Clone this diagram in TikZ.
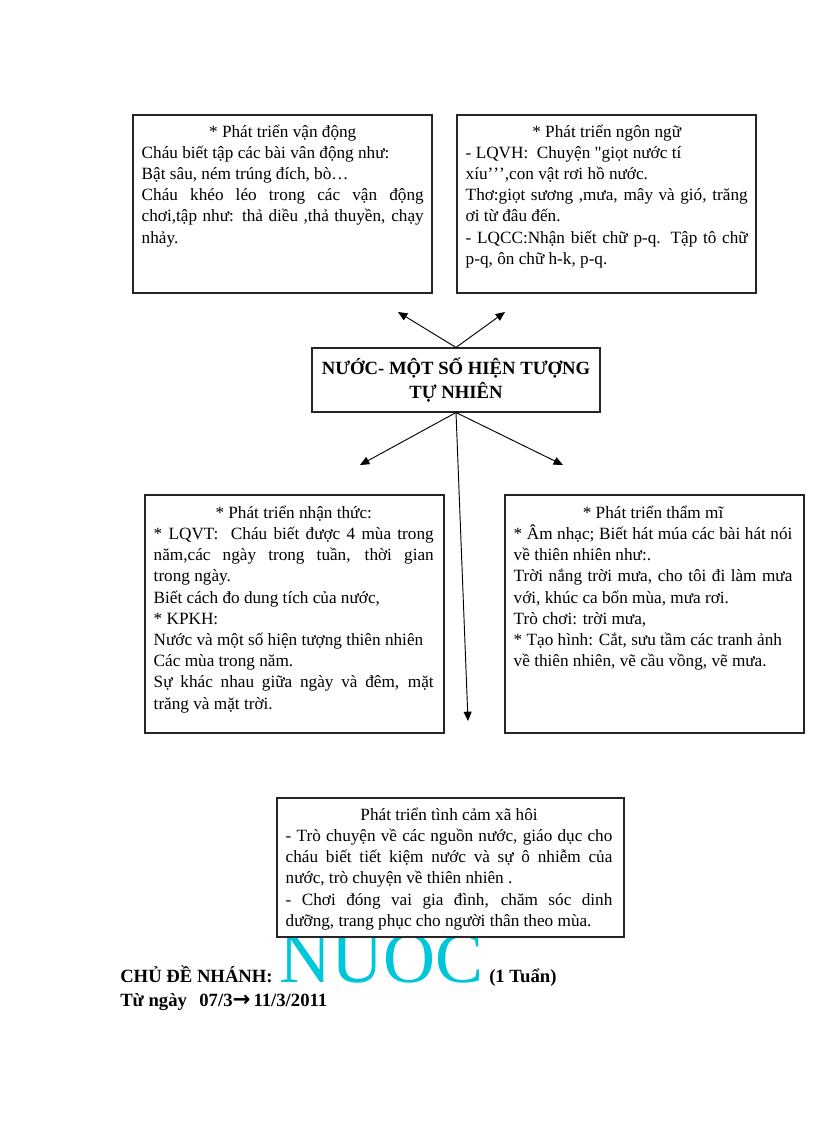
\documentclass[tikz,border=0pt]{standalone}
\usepackage{fontspec}
\setmainfont{Liberation Serif}
\newfontfamily\arrfont{DejaVu Sans}
\usetikzlibrary{arrows.meta}
\definecolor{wordart}{RGB}{0,198,218}
\tikzset{
  box/.style={draw=black!85, line width=0.8pt, fill=white, rectangle, inner sep=0pt},
  boxtext/.style={anchor=north west, inner sep=0pt,
    font=\fontsize{12.9}{15.9}\selectfont},
  title/.style={inner sep=0pt, align=center, font=\fontsize{14}{17.5}\selectfont\bfseries},
  arr/.style={line width=0.7pt, -{Triangle[length=7pt,width=6pt]}},
  bottomtext/.style={inner sep=0pt, anchor=base west, font=\fontsize{14}{17}\selectfont\bfseries}
}
\newcommand{\boxhead}[1]{{\centering #1\par}}
\newcommand{\jbox}[2]{\vbox{\hsize=#1\parindent=0pt\hbadness=10000\tolerance=9999\leftskip=0pt\rightskip=0pt #2\par}}
\begin{document}
\begin{tikzpicture}[x=0.75pt,y=-0.75pt]
\useasboundingbox[fill=white] (0,0) rectangle (816,1123);

% boxes
\node[box, minimum width=224.25pt, minimum height=133.5pt] (b1) at (282.5,204) {};
\node[box, minimum width=224.25pt, minimum height=133.5pt] (b2) at (606.5,204) {};
\node[box, minimum width=216pt, minimum height=48pt] (c) at (456,380) {};
\node[box, minimum width=224.25pt, minimum height=178.5pt] (b3) at (294.5,614) {};
\node[box, minimum width=224.25pt, minimum height=178.5pt] (b4) at (654.5,614) {};

% big word art (partly under box 5)
\node[inner sep=0pt, anchor=base west, text=wordart, font=\fontsize{54}{54}\selectfont] (nuoc) at (279,982) {NUOC};
\node[box, minimum width=260.25pt, minimum height=104.25pt] (b5) at (450.5,867.5) {};

% texts
\node[boxtext] (t1) at ([shift={(9,10)}]b1.north west) {\jbox{211.5pt}{%
\boxhead{* Phát triển vận động}
Cháu biết tập các bài vân động như:\par
Bật sâu, ném trúng đích, bò…\par
Cháu khéo léo trong các vận động\linebreak
chơi,tập như: thả diều ,thả thuyền, chạy\linebreak
nhảy.}};

\node[boxtext] (t2) at ([shift={(9,10)}]b2.north west) {\jbox{211.5pt}{%
\boxhead{* Phát triển ngôn ngữ}
- LQVH:\ \ Chuyện \textquotedbl giọt nước tí\par
xíu’\kern0pt’\kern0pt’,con vật rơi hồ nước.\par
Thơ:giọt sương ,mưa, mây và gió, trăng\linebreak
ơi từ đâu đến.\par
- LQCC:Nhận biết chữ p-q. Tập tô chữ\linebreak
p-q, ôn chữ h-k, p-q.}};

\node[title] (tc) at (c) {NƯỚC- MỘT SỐ HIỆN TƯỢNG\\TỰ NHIÊN};

\node[boxtext] (t3) at ([shift={(9,11)}]b3.north west) {\jbox{210pt}{%
\boxhead{* Phát triển nhận thức:}
* LQVT:\ \ Cháu biết được 4 mùa trong\linebreak
năm,các ngày trong tuần, thời gian\linebreak
trong ngày.\par
Biết cách đo dung tích của nước,\par
* KPKH:\par
Nước và một số hiện tượng thiên nhiên\par
Các mùa trong năm.\par
Sự khác nhau giữa ngày và đêm, mặt\linebreak
trăng và mặt trời.}};

\node[boxtext] (t4) at ([shift={(9,11)}]b4.north west) {\jbox{209pt}{%
\boxhead{* Phát triển thẩm mĩ}
* Âm nhạc; Biết hát múa các bài hát nói\linebreak
về thiên nhiên như:.\par
Trời nắng trời mưa, cho tôi đi làm mưa\linebreak
với, khúc ca bốn mùa, mưa rơi.\par
Trò chơi: trời mưa,\par
* Tạo hình: Cắt, sưu tầm các tranh ảnh\par
về thiên nhiên, vẽ cầu vồng, vẽ mưa.}};

\node[boxtext] (t5) at ([shift={(9,10)}]b5.north west) {\jbox{245pt}{%
\boxhead{Phát triển tình cảm xã hôi}
- Trò chuyện về các nguồn nước, giáo dục cho\linebreak
cháu biết tiết kiệm nước và sự ô nhiễm của\linebreak
nước, trò chuyện về thiên nhiên .\par
- Chơi đóng vai gia đình, chăm sóc dinh\linebreak
dưỡng, trang phục cho người thân theo mùa.}};

% arrows
\coordinate (e1) at (398,312);
\coordinate (e2) at (505,312);
\coordinate (e3) at (360,465);
\coordinate (e4) at (563,465);
\coordinate (e5) at (468,721);
\draw[arr] (c.north) -- (e1);
\draw[arr] (c.north) -- (e2);
\draw[arr] (c.south) -- (e3);
\draw[arr] (c.south) -- (e4);
\draw[arr] (c.south) -- (e5);

% bottom lines
\node[bottomtext] (chude) at (120,982) {CHỦ ĐỀ NHÁNH:};
\node[bottomtext] (tuan) at (489,982) {(1 Tuẩn)};
\node[bottomtext] (tungay) at (120,1006) {Từ ngày\ \ \,07/3{\arrfont\bfseries\fontsize{16}{17}\selectfont →}\,11/3/2011};
\end{tikzpicture}
\end{document}
